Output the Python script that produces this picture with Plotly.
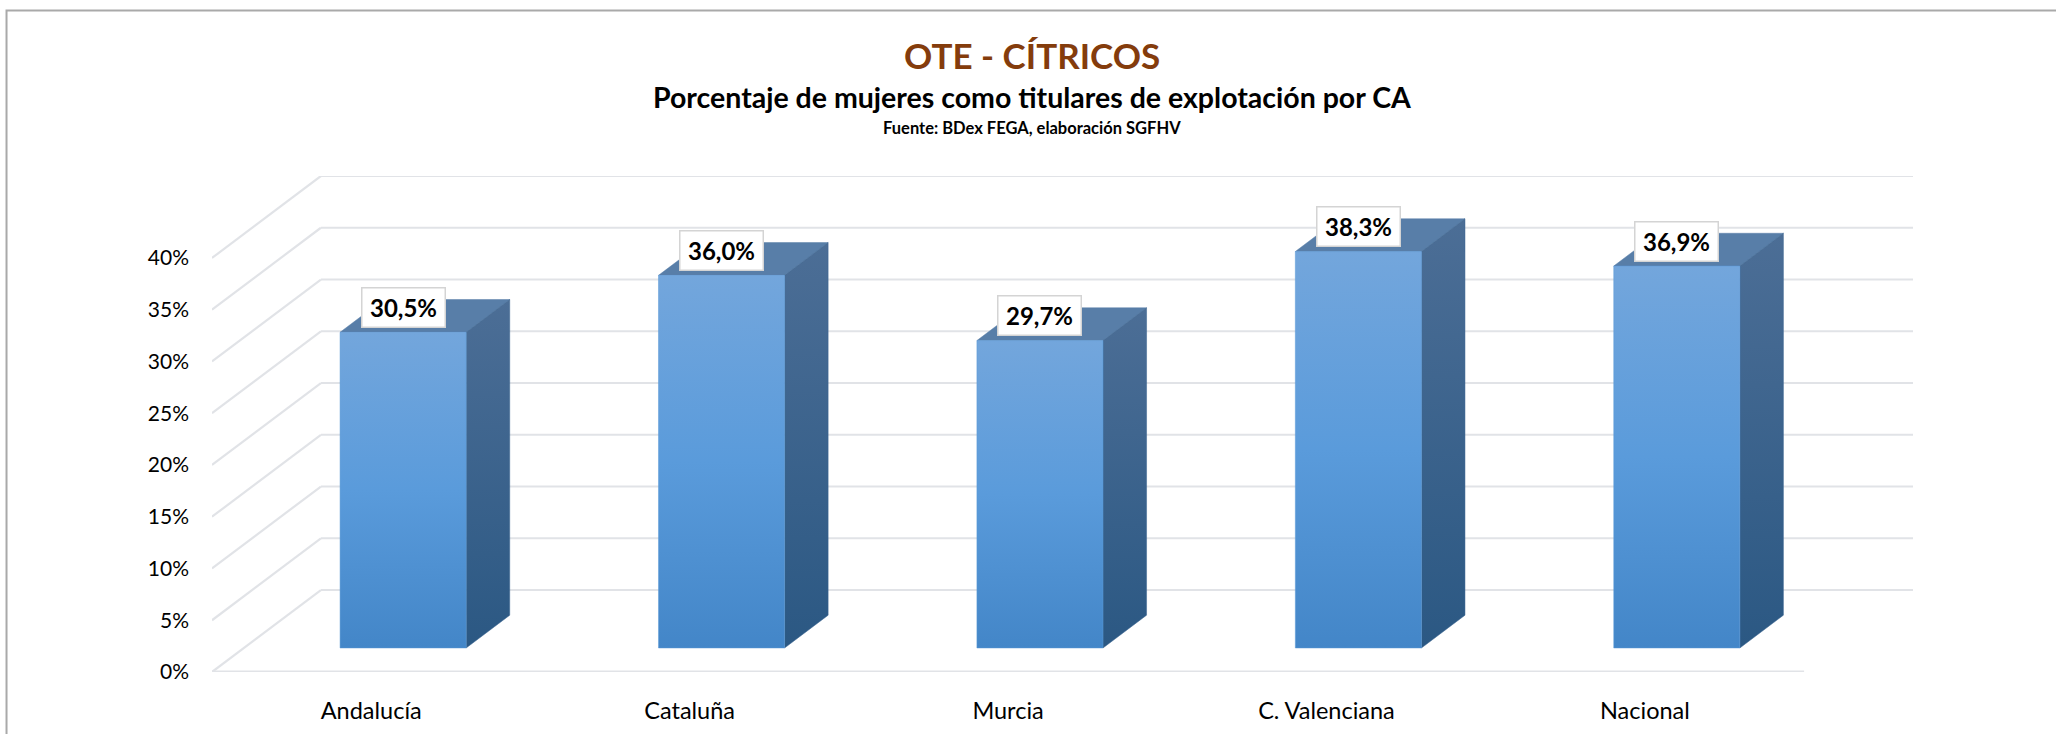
import plotly.graph_objects as go

categories = ["Andalucía", "Cataluña", "Murcia", "C. Valenciana", "Nacional"]
values = [30.5, 36.0, 29.7, 38.3, 36.9]
labels = ["30,5%", "36,0%", "29,7%", "38,3%", "36,9%"]
y_ticks = [0, 5, 10, 15, 20, 25, 30, 35, 40]
y_ticktext = ["0%", "5%", "10%", "15%", "20%", "25%", "30%", "35%", "40%"]

# oblique projection parameters (depth shift in axis units)
D = 0.342   # x shift of full depth (category units)
E = 7.92    # y shift of full depth (percent units)
F0 = 0.293  # depth fraction of bar front
F1 = 0.693  # depth fraction of bar back
W = 0.198   # half bar width

FONT = "Lato"
GRID = "#E1E3E7"

fig = go.Figure()

# walls / grid
gx, gy = [], []
for v in y_ticks:
    gx += [-0.5 + D, len(categories) - 0.5 + D, None]
    gy += [v + E, v + E, None]
    gx += [-0.5, -0.5 + D, None]
    gy += [v, v + E, None]
fig.add_trace(go.Scatter(x=gx, y=gy, mode="lines", line=dict(color=GRID, width=2.2),
                         hoverinfo="skip", cliponaxis=False, showlegend=False))
fig.add_trace(go.Scatter(x=[-0.5, len(categories) - 0.5], y=[0, 0], mode="lines",
                         line=dict(color=GRID, width=3.2), hoverinfo="skip",
                         cliponaxis=False, showlegend=False))

for i, v in enumerate(values):
    xl = i - W + F0 * D
    xr = i + W + F0 * D
    yb = F0 * E
    dxs = (F1 - F0) * D
    dys = (F1 - F0) * E
    # top face
    fig.add_trace(go.Scatter(
        x=[xl, xr, xr + dxs, xl + dxs, xl], y=[v + yb, v + yb, v + yb + dys, v + yb + dys, v + yb],
        fill="toself", fillcolor="#587EA8", mode="lines", line=dict(width=0.5, color="#587EA8"),
        hoverinfo="skip", showlegend=False, cliponaxis=False))
    # side face
    fig.add_trace(go.Scatter(
        x=[xr, xr + dxs, xr + dxs, xr, xr], y=[yb, yb + dys, v + yb + dys, v + yb, yb],
        fill="toself", mode="lines", line=dict(width=0.5, color="#3B6590"),
        fillgradient=dict(type="vertical", colorscale=[[0, "#2B5883"], [1, "#4C6E96"]]),
        hoverinfo="skip", showlegend=False, cliponaxis=False))
    # front face
    fig.add_trace(go.Scatter(
        x=[xl, xr, xr, xl, xl], y=[yb, yb, v + yb, v + yb, yb],
        fill="toself", mode="lines", line=dict(width=0.5, color="#5A98D6"),
        fillgradient=dict(type="vertical", colorscale=[[0, "#4386C8"], [0.5, "#5A9BDB"], [1, "#73A6DC"]]),
        hoverinfo="skip", showlegend=False, cliponaxis=False))
    fig.add_annotation(x=i + F0 * D, y=v + yb + 2.42, text="<b>" + labels[i] + "</b>",
                       showarrow=False, xanchor="center", yanchor="middle",
                       font=dict(family=FONT, size=24, color="#000000"),
                       bgcolor="#FFFFFF", bordercolor="#D4D4D4", borderwidth=1.5,
                       borderpad=0, width=82, height=38)

# titles
fig.add_annotation(xref="paper", yref="paper", x=0.482, y=1.244, text="<b>OTE - CÍTRICOS</b>",
                   showarrow=False, xanchor="center", yanchor="middle",
                   font=dict(family=FONT, size=35, color="#843C0C"))
fig.add_annotation(xref="paper", yref="paper", x=0.482, y=1.1593,
                   text="<b>Porcentaje de mujeres como titulares de explotación por CA</b>",
                   showarrow=False, xanchor="center", yanchor="middle",
                   font=dict(family=FONT, size=28.5, color="#000000"))
fig.add_annotation(xref="paper", yref="paper", x=0.482, y=1.0968,
                   text="<b>Fuente: BDex FEGA, elaboración SGFHV</b>",
                   showarrow=False, xanchor="center", yanchor="middle",
                   font=dict(family=FONT, size=16.5, color="#000000"))

# outer frame
fig.add_shape(type="rect", xref="paper", yref="paper", x0=-0.1208, y0=-0.2, x1=1.1, y1=1.3337,
              line=dict(color="#A9A9A9", width=2), fillcolor="rgba(0,0,0,0)")

fig.update_layout(
    width=2056, height=734,
    margin=dict(l=212, r=143, t=176, b=62),
    paper_bgcolor="#FFFFFF", plot_bgcolor="#FFFFFF",
    showlegend=False,
    font=dict(family=FONT, color="#000000"),
    xaxis=dict(range=[-0.5, len(categories) - 0.5 + D], tickvals=list(range(len(categories))),
               ticktext=categories, showgrid=False, zeroline=False, showline=False,
               ticks="", ticklabelstandoff=22, tickfont=dict(family=FONT, size=23.5, color="#000000"),
               fixedrange=True, automargin=False),
    yaxis=dict(range=[0, 47.92], tickvals=y_ticks, ticktext=y_ticktext, showgrid=False,
               zeroline=False, showline=False, ticks="", ticklabelstandoff=22,
               tickfont=dict(family=FONT, size=21, color="#000000"), fixedrange=True,
               automargin=False),
)

fig.write_html("out.html", config={"displayModeBar": False},
               post_script="document.body.style.margin='0';document.body.style.overflow='hidden';")
